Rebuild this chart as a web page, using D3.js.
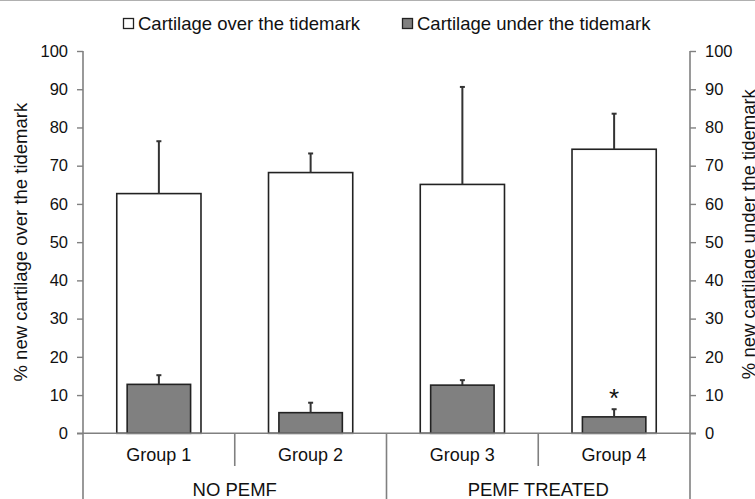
<!DOCTYPE html>
<html>
<head>
<meta charset="utf-8">
<script src="https://cdn.jsdelivr.net/npm/d3@7"></script>
<style>
  body { margin: 0; background: #fff; }
  text { font-family: Arial, "Liberation Sans", sans-serif; fill: #111; }
</style>
</head>
<body>
<svg id="chart"></svg>
<script>
// data
const groups = ["Group 1", "Group 2", "Group 3", "Group 4"];
const treatments = ["NO PEMF", "PEMF TREATED"];
const overMean = [62.7, 68.2, 65.1, 74.3];
const overErr = [13.7, 5.0, 25.5, 9.3];
const underMean = [12.8, 5.4, 12.6, 4.3];
const underErr = [2.4, 2.6, 1.3, 2.0];
const significant = [false, false, false, true];
const yTicks = [0, 10, 20, 30, 40, 50, 60, 70, 80, 90, 100];

const width = 755;
const height = 499;
const axisColor = "#808080";
const barStroke = "#222";

const svg = d3.select("#chart")
  .attr("width", width)
  .attr("height", height);

// thin frame line at the top
svg.append("line")
  .attr("x1", 0).attr("x2", width)
  .attr("y1", 0.5).attr("y2", 0.5)
  .attr("stroke", "#b0b0b0");

const x = d3.scaleBand()
  .domain(groups)
  .range([83, 690]);

const y = d3.scaleLinear()
  .domain([0, 100])
  .range([433.3, 51]);

const bw = x.bandwidth();
const cx = d => x(d) + bw / 2;

// white bars (over the tidemark)
const overW = bw * 0.555;
svg.append("g").selectAll("rect")
  .data(groups)
  .join("rect")
  .attr("x", d => cx(d) - overW / 2)
  .attr("y", (d, i) => y(overMean[i]))
  .attr("width", overW)
  .attr("height", (d, i) => y(0) - y(overMean[i]))
  .attr("fill", "#fff")
  .attr("stroke", barStroke)
  .attr("stroke-width", 1.6);

// grey bars (under the tidemark)
const underW = bw * 0.418;
svg.append("g").selectAll("rect")
  .data(groups)
  .join("rect")
  .attr("x", d => cx(d) - underW / 2)
  .attr("y", (d, i) => y(underMean[i]))
  .attr("width", underW)
  .attr("height", (d, i) => y(0) - y(underMean[i]))
  .attr("fill", "#808080")
  .attr("stroke", barStroke)
  .attr("stroke-width", 1.6);

// upper error bars only
function errorBars(means, errs) {
  const g = svg.append("g")
    .attr("stroke", "#333")
    .attr("stroke-width", 2);
  g.selectAll("line.stem")
    .data(groups)
    .join("line")
    .attr("class", "stem")
    .attr("x1", cx).attr("x2", cx)
    .attr("y1", (d, i) => y(means[i]))
    .attr("y2", (d, i) => y(means[i] + errs[i]));
  g.selectAll("line.cap")
    .data(groups)
    .join("line")
    .attr("class", "cap")
    .attr("x1", d => cx(d) - 2.5).attr("x2", d => cx(d) + 2.5)
    .attr("y1", (d, i) => y(means[i] + errs[i]))
    .attr("y2", (d, i) => y(means[i] + errs[i]));
}
errorBars(overMean, overErr);
errorBars(underMean, underErr);

// significance star
svg.append("g").selectAll("text")
  .data(groups.filter((d, i) => significant[i]))
  .join("text")
  .attr("x", cx)
  .attr("y", d => y(underMean[groups.indexOf(d)] + underErr[groups.indexOf(d)]))
  .attr("dy", -2)
  .attr("text-anchor", "middle")
  .style("font-size", "26px")
  .text("*");

// left and right axes
const leftAxis = svg.append("g")
  .attr("transform", "translate(83,0)")
  .call(d3.axisLeft(y).tickValues(yTicks).tickSize(6).tickPadding(9));
const rightAxis = svg.append("g")
  .attr("transform", "translate(690,0)")
  .call(d3.axisRight(y).tickValues(yTicks).tickSize(6).tickPadding(9));
[leftAxis, rightAxis].forEach(a => {
  a.select(".domain").remove();
  a.selectAll("line").attr("stroke", axisColor).attr("stroke-width", 1.4);
  a.selectAll("text").style("font-size", "16.5px").attr("fill", "#111");
});

// axis lines run down through the category area
svg.append("g")
  .attr("stroke", axisColor)
  .attr("stroke-width", 1.6)
  .selectAll("line")
  .data([83, 690])
  .join("line")
  .attr("x1", d => d).attr("x2", d => d)
  .attr("y1", y(100)).attr("y2", height);

// zero line
svg.append("line")
  .attr("x1", 77).attr("x2", 696)
  .attr("y1", y(0)).attr("y2", y(0))
  .attr("stroke", axisColor)
  .attr("stroke-width", 1.4);

// category separators: short between groups, long between treatments
const seps = groups.slice(1).map((d, i) => ({ x: x(d), long: (i + 1) % 2 === 0 }));
svg.append("g")
  .attr("stroke", axisColor)
  .attr("stroke-width", 1.6)
  .selectAll("line")
  .data(seps)
  .join("line")
  .attr("x1", d => d.x).attr("x2", d => d.x)
  .attr("y1", y(0))
  .attr("y2", d => d.long ? height : 466);

// group labels
svg.append("g").selectAll("text")
  .data(groups)
  .join("text")
  .attr("x", cx)
  .attr("y", 461)
  .attr("text-anchor", "middle")
  .style("font-size", "18px")
  .text(d => d);

// treatment labels
svg.append("g").selectAll("text")
  .data(treatments)
  .join("text")
  .attr("x", (d, i) => (x(groups[i * 2]) + x(groups[i * 2 + 1]) + bw) / 2)
  .attr("y", 496)
  .attr("text-anchor", "middle")
  .style("font-size", "18.5px")
  .text(d => d);

// axis titles (the right one runs off the edge, as in the figure)
svg.append("text")
  .attr("transform", "translate(27," + (y(50)) + ") rotate(-90)")
  .attr("text-anchor", "middle")
  .style("font-size", "18.5px")
  .text("% new cartilage over the tidemark");
svg.append("text")
  .attr("transform", "translate(755," + (y(50) - 8) + ") rotate(-90)")
  .attr("text-anchor", "middle")
  .style("font-size", "18.5px")
  .text("% new cartilage under the tidemark");

// legend
const legendItems = [
  { label: "Cartilage over the tidemark", fill: "#fff", x: 123 },
  { label: "Cartilage under the tidemark", fill: "#808080", x: 402 }
];
const legend = svg.append("g").selectAll("g")
  .data(legendItems)
  .join("g")
  .attr("transform", d => "translate(" + d.x + ",18)");
legend.append("rect")
  .attr("x", 0.5).attr("y", 0.5)
  .attr("width", 10).attr("height", 10)
  .attr("fill", d => d.fill)
  .attr("stroke", barStroke)
  .attr("stroke-width", 1.3);
legend.append("text")
  .attr("x", 15)
  .attr("y", 12)
  .style("font-size", "18.5px")
  .text(d => d.label);
</script>
</body>
</html>
